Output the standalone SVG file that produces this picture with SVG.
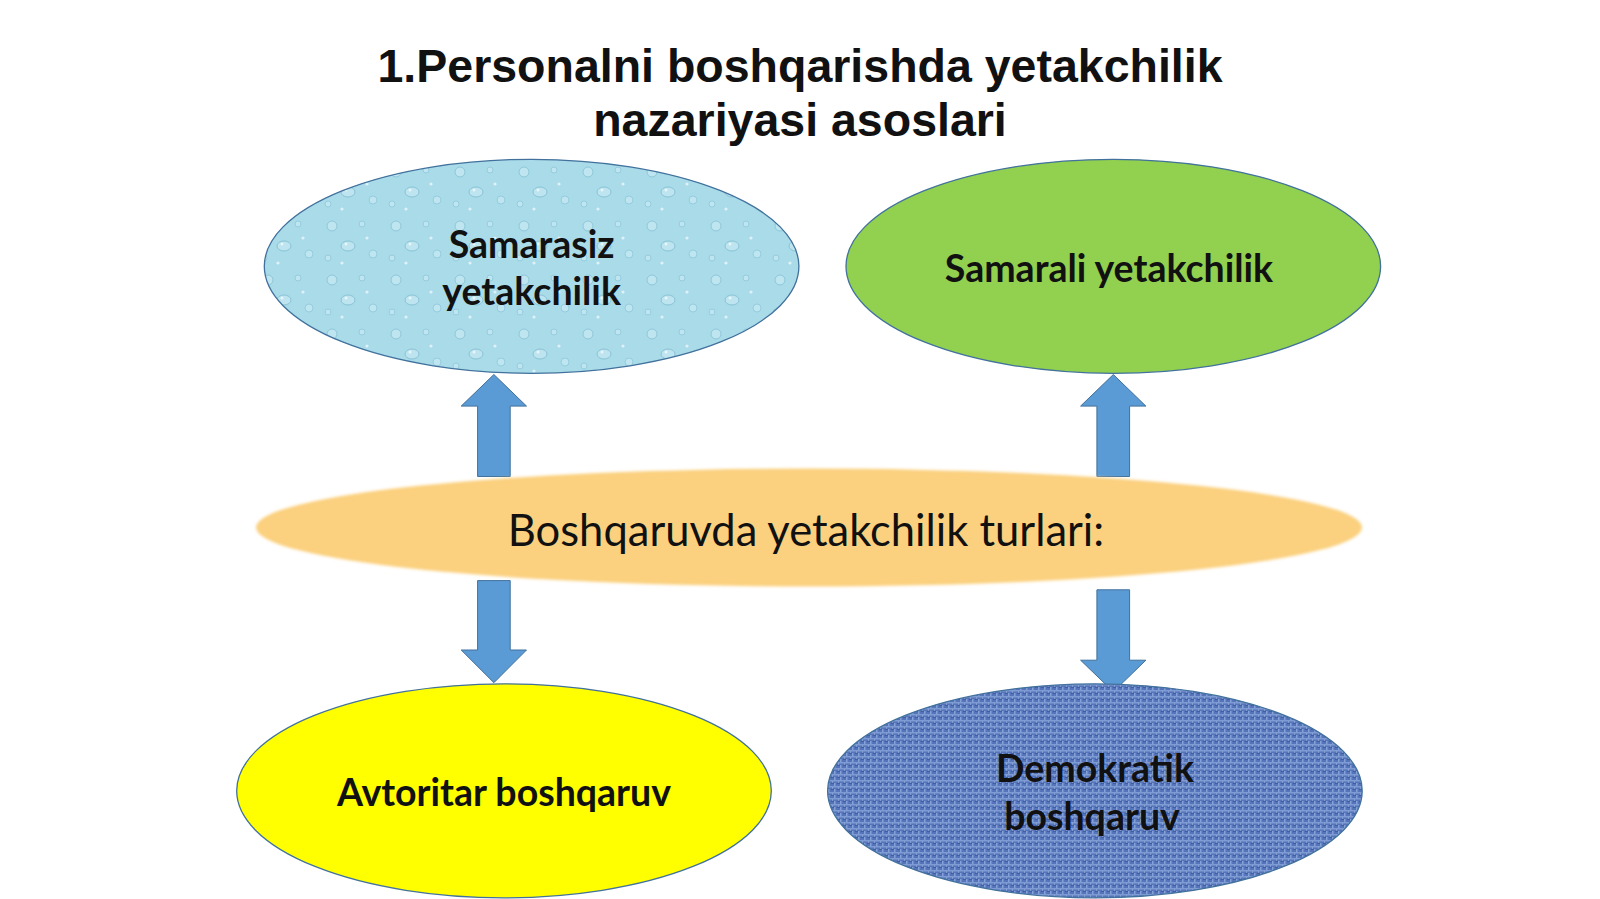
<svg xmlns="http://www.w3.org/2000/svg" width="1600" height="899" viewBox="0 0 1600 899">
<style>
.title{font-family:"Liberation Sans",Arial,sans-serif;font-weight:bold;font-size:46.5px;fill:#111;text-anchor:middle}
.lbl{font-family:Lato,"Open Sans",sans-serif;font-weight:bold;font-size:37.5px;fill:#111;text-anchor:middle}
.mid{font-family:Lato,"Open Sans",sans-serif;font-size:43.5px;fill:#111;text-anchor:middle}
.node{stroke:#41719c;stroke-width:1.3}
.arrow{fill:#5b9bd5;stroke:#41719c;stroke-width:1}
</style>
<defs>
<pattern id="drops" patternUnits="userSpaceOnUse" width="64" height="54">
<rect width="64" height="54" fill="#a9dbe9"/>
<circle cx="12" cy="10" r="5" fill="#bfe5f0" stroke="#8cc7d9" stroke-width="1"/>
<circle cx="42" cy="8" r="3" fill="#bfe5f0" stroke="#8cc7d9" stroke-width="0.8"/>
<ellipse cx="28" cy="30" rx="7" ry="5" fill="#bde4ef" stroke="#88c3d5" stroke-width="1"/>
<circle cx="53" cy="38" r="4" fill="#bfe5f0" stroke="#8cc7d9" stroke-width="0.8"/>
<circle cx="8" cy="42" r="3" fill="#bfe5f0" stroke="#8cc7d9" stroke-width="0.8"/>
<circle cx="47" cy="22" r="1.6" fill="#dff2f8"/>
<circle cx="22" cy="47" r="1.6" fill="#dff2f8"/>
<circle cx="26" cy="28" r="1.5" fill="#e6f6fa"/>
</pattern>
<pattern id="canvas" patternUnits="userSpaceOnUse" width="6" height="6">
<rect width="6" height="6" fill="#5574b9"/>
<rect x="0" y="0" width="6" height="1.5" fill="#7f9bd4"/>
<rect x="0" y="3" width="1.5" height="3" fill="#86a1d8"/>
<rect x="3" y="3" width="3" height="1" fill="#3f5fa2"/>
<rect x="4" y="1.5" width="1" height="1" fill="#a6bbe6"/>
</pattern>
<filter id="soft" x="-5%" y="-20%" width="110%" height="140%">
<feGaussianBlur stdDeviation="1.5"/>
</filter>
</defs>
<rect width="1600" height="899" fill="#ffffff"/>
<g id="title">
<text class="title" x="800" y="82">1.Personalni boshqarishda yetakchilik</text>
<text class="title" x="800" y="136">nazariyasi asoslari</text>
</g>
<g id="connectors">
<polygon class="arrow" points="477.6,476.5 477.6,406.1 461.2,406.1 493.9,374.5 526.5,406.1 510.2,406.1 510.2,476.5"/>
<polygon class="arrow" points="1096.9,476.5 1096.9,406.1 1080.6,406.1 1113.3,374.5 1145.9,406.1 1129.6,406.1 1129.6,476.5"/>
<polygon class="arrow" points="477.6,580.6 477.6,650 461.2,650 493.9,682.7 526.5,650 510.2,650 510.2,580.6"/>
<polygon class="arrow" points="1096.9,589.8 1096.9,660.2 1080.6,660.2 1113.3,691.8 1145.9,660.2 1129.6,660.2 1129.6,589.8"/>
</g>
<g id="node-center">
<ellipse cx="809" cy="527.5" rx="553" ry="59" fill="#fbd07e" filter="url(#soft)"/>
<text class="mid" x="806" y="546">Boshqaruvda yetakchilik turlari:</text>
</g>
<g id="node-samarasiz">
<ellipse class="node" cx="531.6" cy="266.3" rx="267.3" ry="107" fill="url(#drops)"/>
<text class="lbl" x="531.6" y="258">Samarasiz</text>
<text class="lbl" x="531.6" y="305">yetakchilik</text>
</g>
<g id="node-samarali">
<ellipse class="node" cx="1113.3" cy="266.3" rx="267.3" ry="107" fill="#92d050"/>
<text class="lbl" x="1109" y="282">Samarali yetakchilik</text>
</g>
<g id="node-avtoritar">
<ellipse class="node" cx="504" cy="790.8" rx="267.3" ry="107" fill="#ffff00"/>
<text class="lbl" x="504" y="806">Avtoritar boshqaruv</text>
</g>
<g id="node-demokratik">
<ellipse class="node" cx="1094.9" cy="790.8" rx="267.3" ry="107" fill="url(#canvas)"/>
<text class="lbl" x="1095" y="782">Demokratik</text>
<text class="lbl" x="1092" y="830">boshqaruv</text>
</g>
</svg>
